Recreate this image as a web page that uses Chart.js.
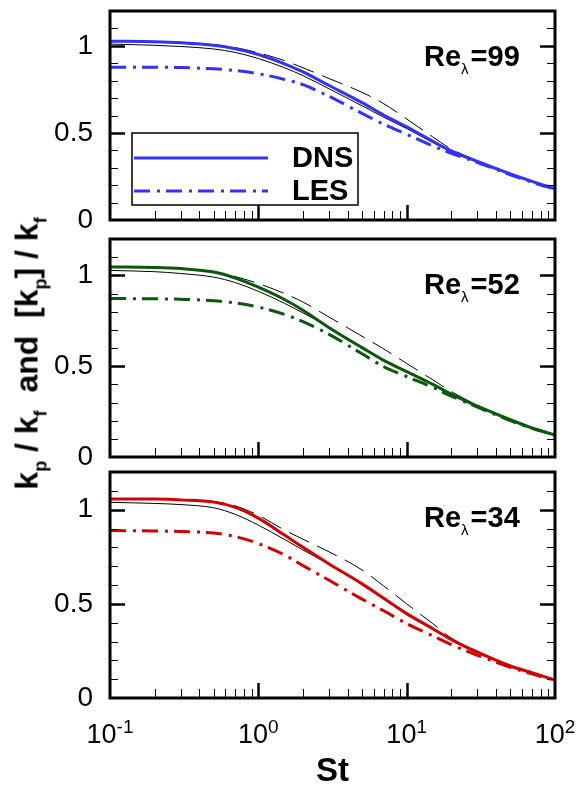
<!DOCTYPE html>
<html>
<head>
<meta charset="utf-8">
<script src="https://cdn.jsdelivr.net/npm/chart.js@4"></script>
<style>
  body { margin: 0; background: #fff; width: 580px; height: 790px; overflow: hidden; position: relative; font-family: "Liberation Sans", Arial, sans-serif; }
  canvas { position: absolute; left: 0; }
  #ytitle { position: absolute; width: 400px; height: 37px; line-height: 37px; left: -173.5px; top: 334.5px;
            transform: rotate(-90deg); text-align: center; font-weight: bold; font-size: 32px; white-space: pre; }
  #ytitle sub { font-size: 18px; vertical-align: -9px; line-height: 0; }
</style>
</head>
<body>
<canvas id="c1" width="580" height="236" style="top:0"></canvas>
<canvas id="c2" width="580" height="244" style="top:230px"></canvas>
<canvas id="c3" width="580" height="330" style="top:462px"></canvas>
<div id="ytitle">k<sub>p</sub> / k<sub>f</sub>  and  [k<sub>p</sub>] / k<sub>f</sub></div>
<script>
const st = [0.1, 0.2, 0.3, 0.5, 0.7, 1, 1.5, 2, 3, 5, 7, 10, 15, 20, 30, 50, 70, 100];

// Re_lambda = 99
const dns99    = [1.027, 1.024, 1.018, 1.003, 0.983, 0.95, 0.897, 0.85, 0.772, 0.674, 0.603, 0.535, 0.452, 0.397, 0.336, 0.265, 0.222, 0.18];
const les99    = [0.877, 0.877, 0.875, 0.868, 0.858, 0.84, 0.807, 0.777, 0.71, 0.612, 0.55, 0.492, 0.425, 0.383, 0.33, 0.26, 0.217, 0.177];
const solid99  = [1.01, 1.003, 0.996, 0.982, 0.962, 0.927, 0.874, 0.829, 0.753, 0.656, 0.59, 0.525, 0.445, 0.39, 0.333, 0.262, 0.219, 0.178];
const dashed99 = [1.027, 1.025, 1.02, 1.007, 0.99, 0.96, 0.915, 0.874, 0.812, 0.733, 0.668, 0.58, 0.477, 0.407, 0.34, 0.264, 0.22, 0.178];

// Re_lambda = 52
const dns52    = [1.046, 1.043, 1.037, 1.018, 0.985, 0.935, 0.867, 0.808, 0.712, 0.602, 0.532, 0.47, 0.4, 0.346, 0.28, 0.205, 0.16, 0.121];
const les52    = [0.872, 0.871, 0.868, 0.86, 0.848, 0.825, 0.785, 0.745, 0.675, 0.568, 0.497, 0.443, 0.383, 0.335, 0.275, 0.2, 0.158, 0.12];
const solid52  = [1.027, 1.02, 1.01, 0.99, 0.96, 0.912, 0.846, 0.793, 0.715, 0.605, 0.535, 0.473, 0.402, 0.348, 0.282, 0.206, 0.161, 0.121];
const dashed52 = [1.046, 1.043, 1.038, 1.02, 0.993, 0.955, 0.9, 0.853, 0.77, 0.665, 0.595, 0.515, 0.425, 0.36, 0.285, 0.207, 0.161, 0.121];

// Re_lambda = 34
const dns34    = [1.057, 1.056, 1.052, 1.04, 1.012, 0.955, 0.865, 0.8, 0.712, 0.606, 0.53, 0.448, 0.368, 0.31, 0.243, 0.17, 0.134, 0.095];
const les34    = [0.889, 0.887, 0.884, 0.876, 0.857, 0.82, 0.76, 0.703, 0.625, 0.525, 0.463, 0.395, 0.33, 0.283, 0.227, 0.163, 0.128, 0.094];
const solid34  = [1.039, 1.033, 1.027, 1.01, 0.975, 0.918, 0.842, 0.786, 0.71, 0.605, 0.53, 0.449, 0.369, 0.311, 0.244, 0.171, 0.134, 0.095];
const dashed34 = [1.057, 1.056, 1.053, 1.044, 1.02, 0.97, 0.892, 0.843, 0.776, 0.68, 0.595, 0.5, 0.395, 0.318, 0.248, 0.172, 0.134, 0.095];

const yTicks = [0, 0.5, 1];
const xTicks = [0.1, 1, 10, 100];
const xExponents = ['-1', '0', '1', '2'];

const FONT = '"Liberation Sans", Arial, sans-serif';
Chart.defaults.color = '#000';

const pts = arr => st.map((x, i) => ({x: x, y: arr[i]}));

const framePlugin = {
  id: 'frame',
  afterDatasetsDraw(chart, args, opts) {
    const {ctx, chartArea: a, scales: {x, y}} = chart;
    ctx.save();
    ctx.strokeStyle = '#000';
    ctx.fillStyle = '#000';

    // inward ticks, left and right
    for (let i = 1; i < 12; i++) {
      const major = i % 5 === 0;
      const py = Math.round(y.getPixelForValue(i / 10)) + 0.5;
      const len = major ? 15 : 8;
      ctx.lineWidth = major ? 2.5 : 1;
      ctx.beginPath();
      ctx.moveTo(a.left, py); ctx.lineTo(a.left + len, py);
      ctx.moveTo(a.right, py); ctx.lineTo(a.right - len, py);
      ctx.stroke();
    }
    // inward ticks, bottom
    for (let d = -1; d < 2; d++) {
      for (let k = 1; k < 10; k++) {
        if (d === -1 && k === 1) continue;
        const major = k === 1;
        const px = Math.round(x.getPixelForValue(k * Math.pow(10, d))) + 0.5;
        ctx.lineWidth = major ? 2.5 : 1;
        ctx.beginPath();
        ctx.moveTo(px, a.bottom); ctx.lineTo(px, a.bottom - (major ? 15 : 9));
        ctx.stroke();
      }
    }
    ctx.lineWidth = 3;
    ctx.strokeRect(a.left, a.top, a.right - a.left, a.bottom - a.top);

    // Re_lambda label
    let tx = a.left + 314;
    const ty = a.top + 55;
    ctx.textBaseline = 'alphabetic';
    ctx.textAlign = 'left';
    ctx.font = 'bold 29px ' + FONT;
    ctx.fillText('Re', tx, ty);
    tx += ctx.measureText('Re').width;
    ctx.font = '15px ' + FONT;
    ctx.fillText('λ', tx, ty + 8);
    tx += ctx.measureText('λ').width + 2;
    ctx.font = 'bold 29px ' + FONT;
    ctx.fillText('=' + opts.re, tx, ty);

    if (opts.legend) {
      const bx = a.left + 22, by = a.top + 122;
      ctx.lineWidth = 1.5;
      ctx.strokeRect(bx, by, 226, 72);
      [0, 1].forEach(i => {
        const ds = chart.data.datasets[i];
        const ly = by + 25 + i * 33;
        ctx.save();
        ctx.strokeStyle = ds.borderColor;
        ctx.lineWidth = ds.borderWidth;
        ctx.setLineDash(ds.borderDash || []);
        ctx.beginPath();
        ctx.moveTo(bx + 2, ly); ctx.lineTo(bx + 136, ly);
        ctx.stroke();
        ctx.restore();
        ctx.font = 'bold 29px ' + FONT;
        ctx.fillText(ds.label, bx + 160, ly + 9);
      });
    }

    if (opts.xLabels) {
      const base = a.bottom + 45;
      xTicks.forEach((v, i) => {
        const px = x.getPixelForValue(v);
        ctx.font = '27px ' + FONT;
        const w1 = ctx.measureText('10').width;
        ctx.font = '19px ' + FONT;
        const w2 = ctx.measureText(xExponents[i]).width;
        const sx = px - (w1 + w2) / 2;
        ctx.font = '27px ' + FONT;
        ctx.fillText('10', sx, base);
        ctx.font = '19px ' + FONT;
        ctx.fillText(xExponents[i], sx + w1, base - 10);
      });
    }
    ctx.restore();
  }
};

function makePanel(id, re, dns, les, solid, dashed, color, padTop, padBottom, bottom) {
  return new Chart(document.getElementById(id), {
    type: 'line',
    data: {
      datasets: [
        {label: 'DNS', data: pts(dns), borderColor: color, borderWidth: 3},
        {label: 'LES', data: pts(les), borderColor: color, borderWidth: 3, borderDash: [16, 7, 3, 6]},
        {label: '', data: pts(solid), borderColor: '#000', borderWidth: 1},
        {label: '', data: pts(dashed), borderColor: '#000', borderWidth: 1, borderDash: [22, 9]},
      ],
    },
    options: {
      responsive: false,
      animation: false,
      layout: {padding: {left: 0, right: 25, top: padTop, bottom: padBottom}},
      elements: {
        point: {radius: 0},
        line: {cubicInterpolationMode: 'monotone', fill: false},
      },
      scales: {
        x: {
          type: 'logarithmic',
          min: 0.1,
          max: 100,
          display: bottom,
          grid: {display: false},
          border: {display: false},
          ticks: {display: false},
          title: {display: bottom, text: 'St', font: {family: FONT, size: 33, weight: 'bold'}, padding: 0},
          afterFit(s) {
            if (bottom) s.height = 94;
            s.paddingLeft = 0; s.paddingRight = 0;
          },
        },
        y: {
          min: 0,
          max: 1.2,
          grid: {display: false},
          border: {display: false},
          afterBuildTicks(s) { s.ticks = yTicks.map(v => ({value: v})); },
          ticks: {
            padding: 9,
            font: {family: FONT, size: 28},
            callback: v => String(v),
          },
          afterFit(s) {
            s.width = 110;
            s.paddingTop = 0; s.paddingBottom = 0;
          },
        },
      },
      plugins: {
        legend: {display: false},
        tooltip: {enabled: false},
        frame: {re: re, legend: id === 'c1', xLabels: bottom},
      },
    },
    plugins: [framePlugin],
  });
}

makePanel('c1', '99', dns99, les99, solid99, dashed99, '#3232ff', 11, 16, false);
makePanel('c2', '52', dns52, les52, solid52, dashed52, '#0a580a', 9, 17, false);
makePanel('c3', '34', dns34, les34, solid34, dashed34, '#d20000', 10, 0, true);
</script>
</body>
</html>
